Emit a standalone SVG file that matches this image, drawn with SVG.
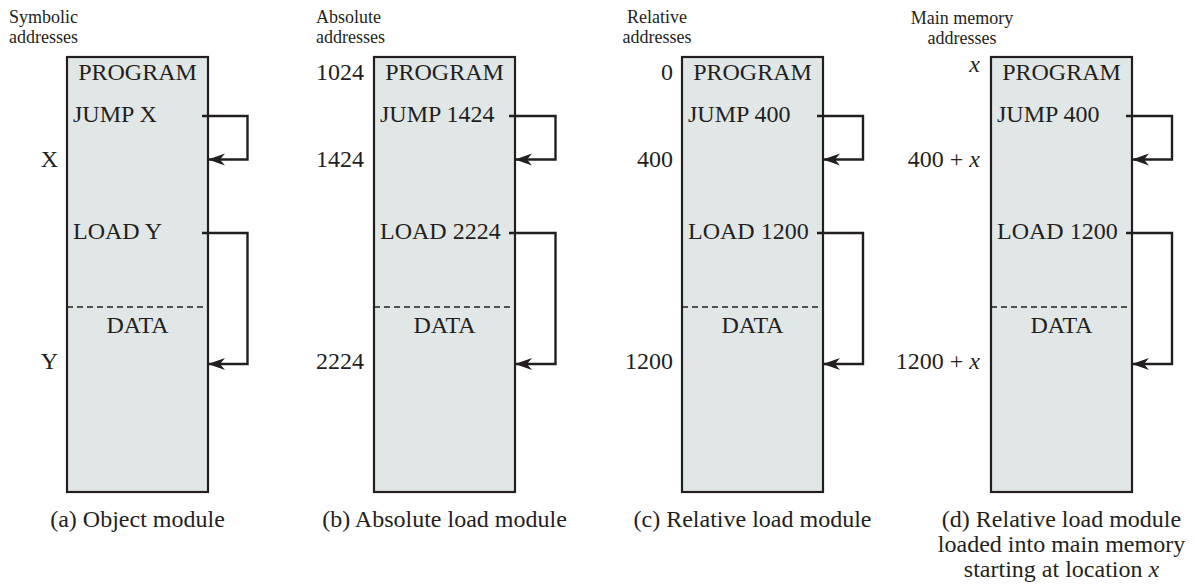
<svg xmlns="http://www.w3.org/2000/svg" width="1195" height="586" viewBox="0 0 1195 586">
<style>
.box{fill:#e1e6e6;stroke:#231f20;stroke-width:2.2}
.dash{stroke:#231f20;stroke-width:1.5;stroke-dasharray:6 4;fill:none}
.t{font-family:"Liberation Serif","Times New Roman",serif;font-size:24px;fill:#231f20}
.s{font-family:"Liberation Serif","Times New Roman",serif;font-size:18px;fill:#231f20}
.m{text-anchor:middle}
.e{text-anchor:end}
.i{font-style:italic}
.c{fill:none;stroke:#231f20;stroke-width:2.4;marker-end:url(#ah)}
</style>
<defs>
<marker id="ah" markerUnits="userSpaceOnUse" markerWidth="18" markerHeight="14" refX="17" refY="6" orient="auto" viewBox="0 0 18 12">
<path d="M17,6 L0,0 L5,6 L0,12 Z" fill="#231f20"/>
</marker>
</defs>

<g id="panel-a">
<text class="s" x="9" y="23">Symbolic</text>
<text class="s" x="9" y="43">addresses</text>
<rect class="box" x="67" y="57" width="141" height="435"/>
<text class="t m" x="137.5" y="80">PROGRAM</text>
<text class="t" x="73" y="122">JUMP X</text>
<text class="t" x="73" y="239">LOAD Y</text>
<line class="dash" x1="67" y1="307" x2="208" y2="307"/>
<text class="t m" x="137.5" y="333">DATA</text>
<text class="t e" x="58" y="167">X</text>
<text class="t e" x="58" y="369">Y</text>
<text class="t m" x="137.5" y="527">(a) Object module</text>
</g>

<g id="panel-b">
<text class="s" x="316" y="23">Absolute</text>
<text class="s" x="316" y="43">addresses</text>
<rect class="box" x="374" y="57" width="141" height="435"/>
<text class="t m" x="444.5" y="80">PROGRAM</text>
<text class="t" x="380" y="122">JUMP 1424</text>
<text class="t" x="380" y="239">LOAD 2224</text>
<line class="dash" x1="374" y1="307" x2="515" y2="307"/>
<text class="t m" x="444.5" y="333">DATA</text>
<text class="t e" x="364" y="80">1024</text>
<text class="t e" x="364" y="167">1424</text>
<text class="t e" x="364" y="369">2224</text>
<text class="t m" x="444.5" y="527">(b) Absolute load module</text>
</g>

<g id="panel-c">
<text class="s m" x="657" y="23">Relative</text>
<text class="s m" x="657" y="43">addresses</text>
<rect class="box" x="682" y="57" width="141" height="435"/>
<text class="t m" x="752.5" y="80">PROGRAM</text>
<text class="t" x="688" y="122">JUMP 400</text>
<text class="t" x="688" y="239">LOAD 1200</text>
<line class="dash" x1="682" y1="307" x2="823" y2="307"/>
<text class="t m" x="752.5" y="333">DATA</text>
<text class="t e" x="673" y="80">0</text>
<text class="t e" x="673" y="167">400</text>
<text class="t e" x="673" y="369">1200</text>
<text class="t m" x="752.5" y="527">(c) Relative load module</text>
</g>

<g id="panel-d">
<text class="s m" x="962" y="24">Main memory</text>
<text class="s m" x="962" y="44">addresses</text>
<rect class="box" x="991" y="57" width="141" height="435"/>
<text class="t m" x="1061.5" y="80">PROGRAM</text>
<text class="t" x="997" y="122">JUMP 400</text>
<text class="t" x="997" y="239">LOAD 1200</text>
<line class="dash" x1="991" y1="307" x2="1132" y2="307"/>
<text class="t m" x="1061.5" y="333">DATA</text>
<text class="t e i" x="980" y="72">x</text>
<text class="t e" x="980" y="167">400 + <tspan class="i">x</tspan></text>
<text class="t e" x="980" y="369">1200 + <tspan class="i">x</tspan></text>
<text class="t m" x="1061.5" y="527">(d) Relative load module</text>
<text class="t m" x="1061.5" y="552">loaded into main memory</text>
<text class="t m" x="1061.5" y="577">starting at location <tspan class="i">x</tspan></text>
</g>

<g id="connectors">
<path class="c" d="M202,116 H247.5 V159.5 H208"/>
<path class="c" d="M202,233 H247.5 V364 H208"/>
<path class="c" d="M509,116 H555.5 V159.5 H515"/>
<path class="c" d="M509,233 H555.5 V364 H515"/>
<path class="c" d="M817,116 H863 V159.5 H823"/>
<path class="c" d="M817,233 H863 V364 H823"/>
<path class="c" d="M1126,116 H1172 V159.5 H1132"/>
<path class="c" d="M1126,233 H1172 V364 H1132"/>
</g>
</svg>
